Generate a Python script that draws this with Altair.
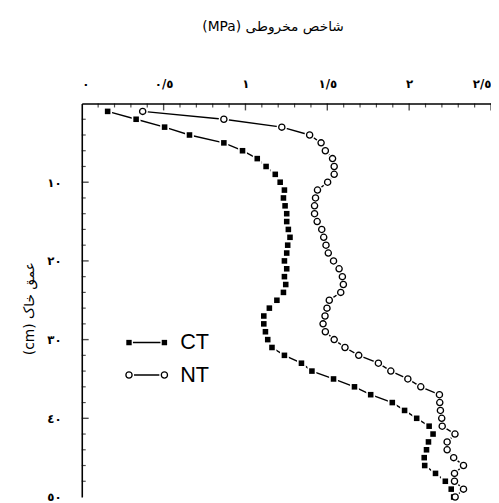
import altair as alt
import pandas as pd

# ---- data ----
depth_cm = [1, 2, 3, 4, 5, 6, 7, 8, 9, 10,
            11, 12, 13, 14, 15, 16, 17, 18, 19, 20,
            21, 22, 23, 24, 25, 26, 27, 28, 29, 30,
            31, 32, 33, 34, 35, 36, 37, 38, 39, 40,
            41, 42, 43, 44, 45, 46, 47, 48, 49, 50]

ct_mpa = [0.158, 0.332, 0.506, 0.658, 0.868, 0.982, 1.072, 1.126, 1.182, 1.212,
          1.238, 1.232, 1.242, 1.252, 1.252, 1.262, 1.272, 1.258, 1.252, 1.238,
          1.252, 1.238, 1.246, 1.232, 1.192, 1.146, 1.112, 1.112, 1.122, 1.136,
          1.162, 1.238, 1.342, 1.406, 1.538, 1.666, 1.765, 1.897, 1.972, 2.046,
          2.122, 2.146, 2.118, 2.106, 2.092, 2.095, 2.161, 2.221, 2.257, 2.272]

nt_mpa = [0.372, 0.868, 1.222, 1.392, 1.462, 1.488, 1.532, 1.542, 1.542, 1.502,
          1.440, 1.428, 1.422, 1.422, 1.438, 1.466, 1.478, 1.492, 1.506, 1.538,
          1.572, 1.592, 1.598, 1.582, 1.512, 1.498, 1.486, 1.474, 1.488, 1.542,
          1.608, 1.692, 1.812, 1.888, 1.992, 2.071, 2.185, 2.187, 2.191, 2.199,
          2.202, 2.280, 2.232, 2.232, 2.272, 2.332, 2.277, 2.277, 2.332, 2.281]

series_names = ["CT", "NT"]

x_tick_values = [0, 0.5, 1, 1.5, 2, 2.5]
x_tick_labels = ["٠", "٠/٥", "١", "١/٥", "٢", "٢/٥"]
x_minor_ticks = [0.1, 0.2, 0.3, 0.4, 0.6, 0.7, 0.8, 0.9, 1.1, 1.2, 1.3, 1.4,
                 1.6, 1.7, 1.8, 1.9, 2.1, 2.2, 2.3, 2.4]
x_major_ticks = [0.5, 1, 1.5, 2, 2.5]

y_tick_values = [10, 20, 30, 40, 50]
y_tick_labels = ["١٠", "٢٠", "٣٠", "٤٠", "٥٠"]
y_minor_ticks = [2, 4, 6, 8, 12, 14, 16, 18, 22, 24, 26, 28, 32, 34, 36, 38,
                 42, 44, 46, 48]
y_major_ticks = [10, 20, 30, 40]

x_title = "(MPa) شاخص مخروطی"
y_title = "(cm) عمق خاک"

# ---- tables ----
df = pd.DataFrame({
    "depth": depth_cm * 2,
    "mpa": ct_mpa + nt_mpa,
    "series": [series_names[0]] * len(depth_cm) + [series_names[1]] * len(depth_cm),
})


def label_expr(values, labels):
    expr = "''"
    for v, l in reversed(list(zip(values, labels))):
        expr = f"datum.value == {v} ? '{l}' : ({expr})"
    return expr


x_scale = alt.Scale(domain=[0, 2.5], nice=False, zero=False)
y_scale = alt.Scale(domain=[0, 50], nice=False, reverse=True)

X = alt.X("mpa:Q", scale=x_scale,
          axis=alt.Axis(orient="top", values=x_tick_values,
                        labelExpr=label_expr(x_tick_values, x_tick_labels),
                        ticks=False, tickSize=0, grid=False,
                        domainColor="black", domainWidth=1.6,
                        labelFont="DejaVu Sans", labelFontSize=12, labelFontWeight="bold",
                        labelColor="black",
                        labelPadding=13, labelFlush=True, labelOverlap=False,
                        title=x_title, titleFont="DejaVu Sans", titleFontSize=14,
                        titleFontWeight="normal", titleColor="black",
                        titleX=194, titleY=-78, titleBaseline="middle"))
Y = alt.Y("depth:Q", scale=y_scale,
          axis=alt.Axis(orient="left", values=y_tick_values,
                        labelExpr=label_expr(y_tick_values, y_tick_labels),
                        ticks=False, tickSize=0, grid=False,
                        domainColor="black", domainWidth=1.6,
                        labelFont="DejaVu Sans", labelFontSize=12, labelFontWeight="bold",
                        labelColor="black",
                        labelPadding=21, labelFlush=False, labelOverlap=False,
                        title=y_title, titleFont="DejaVu Sans", titleFontSize=14,
                        titleFontWeight="normal", titleColor="black",
                        titleX=-53, titleY=208, titleBaseline="middle"))

base = alt.Chart(df)
ct = base.transform_filter(alt.datum.series == series_names[0])
nt = base.transform_filter(alt.datum.series == series_names[1])

lines = base.mark_line(color="black", strokeWidth=1.4).encode(
    x=X, y=Y, detail="series:N", order="depth:Q")
ct_halo = ct.mark_point(shape="square", filled=True, color="white", opacity=1, size=81).encode(
    x="mpa:Q", y="depth:Q")
nt_halo = nt.mark_point(shape="circle", filled=True, color="white", opacity=1, size=110).encode(
    x="mpa:Q", y="depth:Q")
ct_pts = ct.mark_point(shape="square", filled=True, color="black", opacity=1, size=32).encode(
    x="mpa:Q", y="depth:Q")
nt_pts = nt.mark_point(shape="circle", filled=True, fill="white", stroke="black",
                       strokeWidth=1.3, opacity=1, size=40).encode(
    x="mpa:Q", y="depth:Q")

# inward ticks
xminor = alt.Chart(pd.DataFrame({"t": x_minor_ticks})).mark_tick(
    color="black", thickness=1.2, size=4, orient="vertical").encode(
    x=alt.X("t:Q", scale=x_scale), y=alt.value(2))
xmajor = alt.Chart(pd.DataFrame({"t": x_major_ticks})).mark_tick(
    color="black", thickness=1.4, size=7, orient="vertical").encode(
    x=alt.X("t:Q", scale=x_scale), y=alt.value(3.5))
yminor = alt.Chart(pd.DataFrame({"t": y_minor_ticks})).mark_tick(
    color="black", thickness=1.2, size=4, orient="horizontal").encode(
    y=alt.Y("t:Q", scale=y_scale), x=alt.value(2))
ymajor = alt.Chart(pd.DataFrame({"t": y_major_ticks})).mark_tick(
    color="black", thickness=1.4, size=7, orient="horizontal").encode(
    y=alt.Y("t:Q", scale=y_scale), x=alt.value(3.5))


# legend
def legend_entry(label, ypx, circle):
    b = alt.Chart(pd.DataFrame({"label": [label]}))
    parts = [b.mark_rule(color="black", strokeWidth=1.4).encode(
        x=alt.value(48), x2=alt.value(84), y=alt.value(ypx))]
    for xp in (48, 84):
        if circle:
            parts.append(b.mark_point(shape="circle", filled=True, color="white", opacity=1,
                                      size=110).encode(x=alt.value(xp), y=alt.value(ypx)))
            parts.append(b.mark_point(shape="circle", filled=True, fill="white", stroke="black",
                                      strokeWidth=1.3, opacity=1, size=40).encode(
                x=alt.value(xp), y=alt.value(ypx)))
        else:
            parts.append(b.mark_point(shape="square", filled=True, color="white", opacity=1,
                                      size=64).encode(x=alt.value(xp), y=alt.value(ypx)))
            parts.append(b.mark_point(shape="square", filled=True, color="black", opacity=1,
                                      size=30).encode(x=alt.value(xp), y=alt.value(ypx)))
    parts.append(b.mark_text(align="left", baseline="middle", font="Liberation Sans",
                             fontSize=22, color="black").encode(
        x=alt.value(100), y=alt.value(ypx), text="label:N"))
    return parts


legend_layers = legend_entry(series_names[0], 243, False) + legend_entry(series_names[1], 276, True)

chart = alt.layer(
    lines, ct_halo, nt_halo, ct_pts, nt_pts, xminor, xmajor, yminor, ymajor, *legend_layers
).properties(
    width=416, height=400,
    autosize=alt.AutoSizeParams(type="none"),
    padding={"left": 75, "top": 93, "right": 0, "bottom": 2},
    background="white",
).configure_view(strokeWidth=0)

chart.save("out.html", embed_options={"renderer": "svg", "actions": False})
